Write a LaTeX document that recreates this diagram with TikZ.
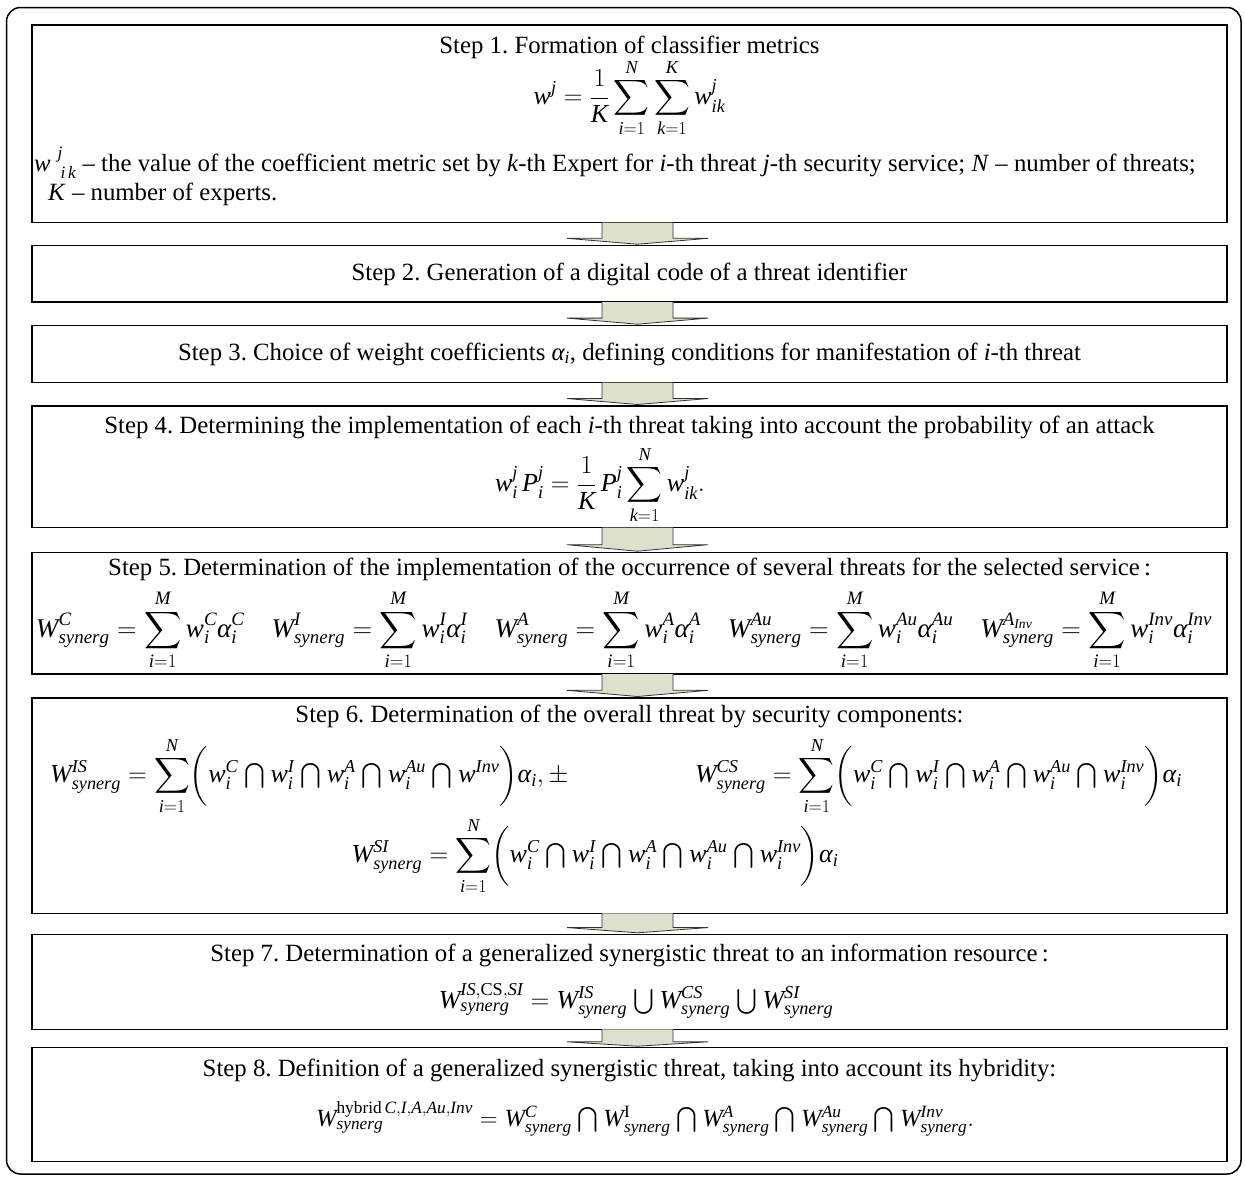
\RequirePackage{fix-cm}
\documentclass[tikz,border=0pt]{standalone}
\usepackage{amsmath}
\usepackage{graphicx}
\usepackage{fontspec}
\setmainfont{Liberation Serif}
\makeatletter
\edef\@tmpdecl{\noexpand\DeclareSymbolFont{ltit}{TU}{\rmdefault}{m}{it}}\@tmpdecl
\@tfor\@tmpl:=abcdefghijklmnopqrstuvwxyzABCDEFGHIJKLMNOPQRSTUVWXYZ\do{%
  \edef\@tmpx{\noexpand\DeclareMathSymbol{\@tmpl}{\noexpand\mathalpha}{ltit}{`\@tmpl}}\@tmpx}
\makeatother
\usetikzlibrary{calc}
\definecolor{arrfill}{RGB}{221,224,205}
\newcommand\myal{\textit{α}}
\newcommand\bcap{\mathbin{\textstyle\bigcap}}
\newcommand\bcup{\mathbin{\textstyle\bigcup}}
\newcommand\blockarr[2]{%
  \filldraw[arr] ($(#1.south)+(-27.5,0)$) -- ($(#1.south)!0.68!(#2.north)+(-27.5,0)$)
    -- ($(#1.south)!0.68!(#2.north)+(-62.5,0)$) -- ($(#2.north)+(8,-1.5)$)
    -- ($(#1.south)!0.68!(#2.north)+(78.5,0)$) -- ($(#1.south)!0.68!(#2.north)+(43.5,0)$)
    -- ($(#1.south)+(43.5,0)$);}
\tikzset{
  stepbox/.style={draw=black, line width=1.4pt, minimum width=1195pt, inner sep=0pt, outer sep=0pt},
  txt/.style={inner sep=0pt, font=\fontsize{24.8}{30}\selectfont\frenchspacing},
  frm/.style={inner sep=0pt, font=\fontsize{26}{31}\selectfont},
  arr/.style={fill=arrfill, draw=black!80, line width=0.8pt, line join=miter},
  framebox/.style={draw=black, line width=1.5pt, rounded corners=14pt, inner sep=0pt, outer sep=0pt}
}
\begin{document}
\begin{tikzpicture}[x=1pt,y=-1pt]
\useasboundingbox (0,0) rectangle (1245,1178);
\node[framebox, minimum width=1234.5pt, minimum height=1166.5pt] (frame) at (623.75,590.75) {};

\node[stepbox, minimum height=197.7pt] (s1) at (629.5,123.85) {};
\node[stepbox, minimum height=56.3pt] (s2) at (629.5,273.85) {};
\node[stepbox, minimum height=57pt] (s3) at (629.5,354.2) {};
\node[stepbox, minimum height=121.7pt] (s4) at (629.5,466.85) {};
\node[stepbox, minimum height=121.3pt] (s5) at (629.5,613.35) {};
\node[stepbox, minimum height=215.3pt] (s6) at (629.5,805.65) {};
\node[stepbox, minimum height=95pt] (s7) at (629.5,981.8) {};
\node[stepbox, minimum height=114pt] (s8) at (629.5,1104.7) {};

\blockarr{s1}{s2}
\blockarr{s2}{s3}
\blockarr{s3}{s4}
\blockarr{s4}{s5}
\blockarr{s5}{s6}
\blockarr{s6}{s7}
\blockarr{s7}{s8}

% Step 1
\node[txt] (t1) at (629.5,47) {Step 1. Formation of classifier metrics};
\node[frm] (f1) at (629.5,98) {$\displaystyle w^{j} = \frac{1}{K}\sum_{i=1}^{N}\sum_{k=1}^{K} w^{j}_{ik}$};
\node[txt, anchor=west] (l1) at (34,163) {$w\;{}^{j}_{\,i\,k}$ – the value of the coefficient metric set by \textit{k}-th Expert for \textit{i}-th threat \textit{j}-th security service; \textit{N} – number of threats;};
\node[txt, anchor=west] (l2) at (48,194) {\textit{K} – number of experts.};

% Step 2
\node[txt] (t2) at (629.5,274) {Step 2. Generation of a digital code of a threat identifier};

% Step 3
\node[txt] (t3) at (629.5,354) {Step 3. Choice of weight coefficients $\myal_{i}$, defining conditions for manifestation of \textit{i}-th threat};

% Step 4
\node[txt] (t4) at (629.5,427) {Step 4. Determining the implementation of each \textit{i}-th threat taking into account the probability of an attack};
\node[frm] (f4) at (600,485) {$\displaystyle w^{j}_{i}\,P^{j}_{i} = \frac{1}{K}\,P^{j}_{i}\sum_{k=1}^{N} w^{j}_{ik}.$};

% Step 5
\node[txt] (t5) at (629.5,569) {Step 5. Determination of the implementation of the occurrence of several threats for the selected service\,:};
\node[frm] (f5) at (624,630) {\resizebox{1176pt}{!}{$\displaystyle
 W^{C}_{synerg} = \sum_{i=1}^{M} w^{C}_{i}\myal^{C}_{i}\quad
 W^{I}_{synerg} = \sum_{i=1}^{M} w^{I}_{i}\myal^{I}_{i}\quad
 W^{A}_{synerg} = \sum_{i=1}^{M} w^{A}_{i}\myal^{A}_{i}\quad
 W^{Au}_{synerg} = \sum_{i=1}^{M} w^{Au}_{i}\myal^{Au}_{i}\quad
 W^{A_{Inv}}_{synerg} = \sum_{i=1}^{M} w^{Inv}_{i}\myal^{Inv}_{i}$}};

% Step 6
\node[txt] (t6) at (629.5,716) {Step 6. Determination of the overall threat by security components:};
\node[frm, anchor=west] (f6a) at (50,776) {$\displaystyle W^{IS}_{synerg} = \sum_{i=1}^{N}\biggl(w^{C}_{i}\bcap w^{I}_{i}\bcap w^{A}_{i}\bcap w^{Au}_{i}\bcap w^{Inv}\biggr)\myal_{i},\pm$};
\node[frm, anchor=east] (f6b) at (1182,776) {$\displaystyle W^{CS}_{synerg} = \sum_{i=1}^{N}\biggl(w^{C}_{i}\bcap w^{I}_{i}\bcap w^{A}_{i}\bcap w^{Au}_{i}\bcap w^{Inv}_{i}\biggr)\myal_{i}$};
\node[frm] (f6c) at (595,856) {$\displaystyle W^{SI}_{synerg} = \sum_{i=1}^{N}\biggl(w^{C}_{i}\bcap w^{I}_{i}\bcap w^{A}_{i}\bcap w^{Au}_{i}\bcap w^{Inv}_{i}\biggr)\myal_{i}$};

% Step 7
\node[txt] (t7) at (629.5,955) {Step 7. Determination of a generalized synergistic threat to an information resource\,:};
\node[frm] (f7) at (636,1001) {$W^{IS,\mathrm{CS},SI}_{synerg} = W^{IS}_{synerg}\bcup W^{CS}_{synerg}\bcup W^{SI}_{synerg}$};

% Step 8
\node[txt] (t8) at (629.5,1070) {Step 8. Definition of a generalized synergistic threat, taking into account its hybridity:};
\node[frm, font=\fontsize{24.7}{30}\selectfont] (f8) at (645,1119) {$W^{\mathrm{hybrid}\,C,I,A,Au,Inv}_{synerg} = W^{C}_{synerg}\bcap W^{\mathrm{I}}_{synerg}\bcap W^{A}_{synerg}\bcap W^{Au}_{synerg}\bcap W^{Inv}_{synerg}.$};
\end{tikzpicture}
\end{document}
